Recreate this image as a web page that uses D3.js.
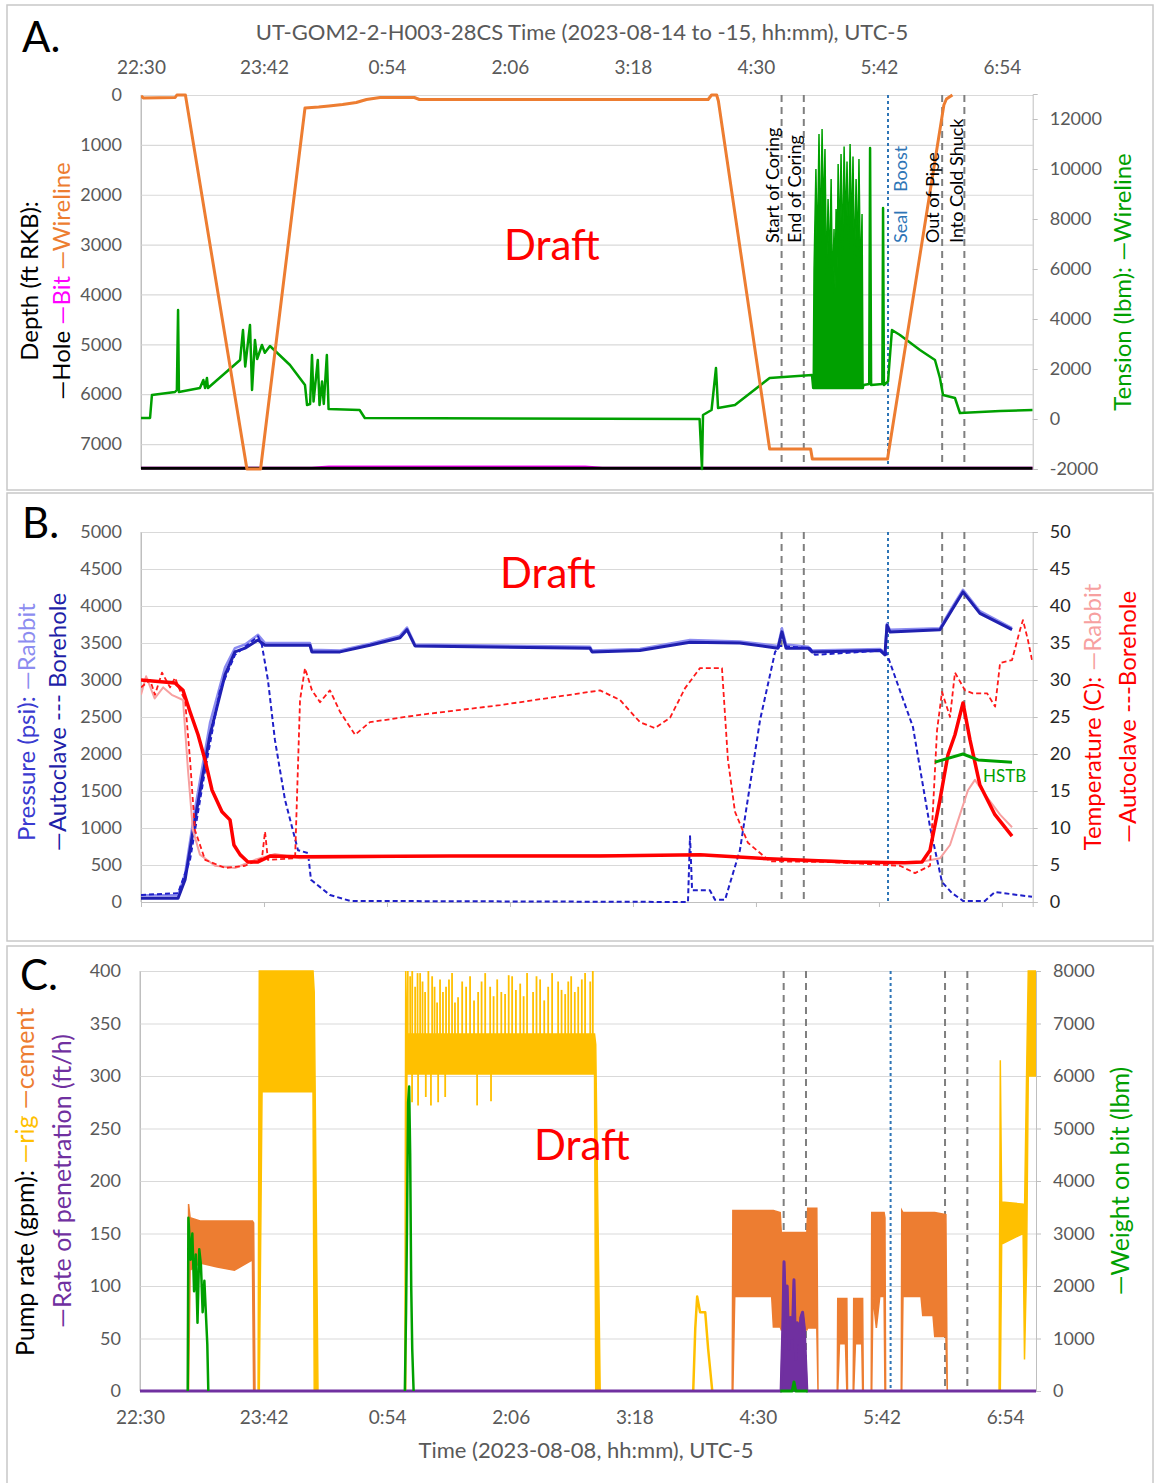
<!DOCTYPE html>
<html>
<head>
<meta charset="utf-8">
<script src="https://d3js.org/d3.v7.min.js"></script>
<style>
  body { margin: 0; background: #fff; }
  text { font-family: Lato, "Open Sans", sans-serif; white-space: pre; }
</style>
</head>
<body>
<svg id="chart" width="1154" height="1483"></svg>
<script>
// all times are minutes after 22:30
const timeTicks = ["22:30", "23:42", "0:54", "2:06", "3:18", "4:30", "5:42", "6:54"];
const eventTimes = [375, 388, 437.3, 469, 482];
const eventLabels = [["Start of Coring"], ["End of Coring"], ["Seal", "Boost"], ["Out of Pipe"], ["Into Cold Shuck"]];

// ---- panel A: depth (ft) and tension (lbm)
const depthTicks = [0, 1000, 2000, 3000, 4000, 5000, 6000, 7000];
const tensionTicks = [-2000, 0, 2000, 4000, 6000, 8000, 10000, 12000];
const wirelineDepth = [[0,20],[1.5,60],[20,50],[21,0],[26,0],[62,7500],[70,7500],[96,260],[104,240],[110,220],[118,190],[126,150],[132,90],[140,50],[160,50],[163,90],[332,90],[334,0],[337,0],[338,120],[368,7100],[392,7100],[393,7300],[437,7300],[470,200],[471.5,80],[475,0]];
const bitDepth = [[0,7480],[100,7480],[110,7455],[260,7455],[270,7480],[522,7480]];
const holeDepth = [[0,7485],[522,7485]];
const tension = [[0,40],[5.3,40],[6.4,960],[19.9,1080],[21,1160],[21.7,4360],[22.2,1080],[34.5,1240],[36.5,1560],[37.5,1240],[38.6,1640],[39.2,1240],[58,2360],[59.7,3560],[61,2100],[63.8,3760],[65,1160],[66.7,3160],[68,2400],[70.8,2960],[72.5,2650],[75.5,2920],[87.2,2160],[96,1360],[97.2,560],[99,600],[100.1,2560],[101,700],[103.5,2360],[104.5,560],[106,1500],[107,600],[108.8,2560],[109.8,400],[128,360],[131,40],[327,0],[328.4,-2000],[329,160],[334,360],[336.6,2040],[337.8,440],[347.7,560],[368,1640],[392.8,1760],[393.5,1240],[422.5,1240],[423,1360],[426.3,1400],[426.8,10840],[427.4,1360],[434,1400],[434.4,8440],[434.9,1360],[437.3,1500],[439.6,3560],[444.3,3360],[456,2760],[464.8,2360],[467.7,1640],[469.5,960],[476.5,840],[479.4,240],[502.9,320],[522,360]];
// [time, low, high] envelope of the dense tension spikes while coring
const tensionBurst = [[393.5,1240,1240],[394,1240,6000],[395.1,1240,10000],[395.9,1240,6500],[396.9,1240,11400],[397.8,1240,7000],[398.7,1240,11600],[399.5,1240,8000],[400.4,1240,10800],[401.3,1240,5500],[402.2,1240,8800],[403.1,1240,6000],[404,1240,9600],[404.8,1240,5000],[405.7,1240,7600],[406.3,1240,5200],[406.9,1240,8400],[407.5,1240,6000],[408.1,1240,10200],[409,1240,7000],[409.8,1240,10600],[410.7,1240,6500],[411.6,1240,10900],[412.5,1240,7500],[413.3,1240,10300],[414.2,1240,6800],[415.1,1240,11000],[416,1240,7200],[416.8,1240,10500],[417.7,1240,6000],[418.6,1240,9600],[419.5,1240,6500],[420.3,1240,10400],[421.2,1240,5500],[422.1,1240,8200],[422.7,1240,1300]];

// ---- panel B: pressure (psi) and temperature (C)
const pressureTicks = [0, 500, 1000, 1500, 2000, 2500, 3000, 3500, 4000, 4500, 5000];
const tempTicks = [0, 5, 10, 15, 20, 25, 30, 35, 40, 45, 50];
const autoclaveP = [[0,50],[21.7,50],[25.8,300],[31.6,1110],[40.4,2260],[49.2,3070],[55,3380],[60.9,3430],[68.5,3540],[72.6,3470],[98.9,3470],[100,3380],[116.5,3380],[134,3470],[151.6,3570],[155.7,3680],[160.4,3460],[262.8,3430],[264,3380],[292,3400],[321.4,3510],[350.6,3500],[372.9,3430],[375.2,3650],[377.6,3430],[390.5,3430],[392.8,3380],[432.6,3400],[435.5,3340],[436.7,3740],[438.4,3650],[467.7,3680],[474.8,3950],[481.2,4190],[491.1,3900],[509.9,3680]];
const rabbitP = [[0,90],[21.7,90],[25.8,380],[31.6,1250],[40.4,2420],[49.2,3170],[55,3430],[60.9,3480],[68.5,3610],[72.6,3500],[98.9,3500],[100,3410],[116.5,3400],[134,3490],[151.6,3600],[155.7,3710],[160.4,3480],[262.8,3450],[264,3400],[292,3420],[321.4,3540],[350.6,3520],[372.9,3460],[375.2,3700],[377.6,3480],[390.5,3450],[392.8,3400],[432.6,3420],[435.5,3360],[436.7,3760],[438.4,3680],[467.7,3700],[474.8,3980],[481.2,4220],[491.1,3930],[509.9,3700]];
const boreholeP = [[0,95],[21.7,120],[28.7,570],[37.5,1780],[46.2,2860],[55,3340],[68.5,3590],[70.8,3470],[74.3,3000],[78.4,2190],[84.3,1380],[91.9,700],[97.8,660],[99.5,300],[110.6,95],[122.3,15],[320.2,0],[321.4,890],[322.6,160],[333,160],[336,30],[341.9,30],[350.6,700],[362.4,2460],[371.2,3380],[374,3460],[391.6,3430],[394.6,3340],[435.5,3400],[437.3,3310],[451.9,2365],[461.9,1013],[468.9,270],[474.8,120],[481.2,15],[494,15],[499.9,135],[521.6,70]];
const autoclaveT = [[0,30],[19.9,29.6],[24.6,28.6],[28.7,25.7],[33.4,22.6],[37.5,19.2],[41.6,15.1],[47.4,12.2],[52.1,11.1],[54.4,7.7],[58,6.4],[62.6,5.4],[68.5,5.4],[75.5,6.2],[93.1,6.1],[180.9,6.2],[268.7,6.2],[327.2,6.4],[362.4,5.9],[415,5.4],[447.2,5.3],[457.2,5.4],[461.9,7],[467.7,13.8],[472.4,19.9],[476.5,22.6],[481.2,26.9],[485.3,21.9],[491.1,15.8],[499.9,11.8],[509.9,8.9]];
const rabbitT = [[0,28],[3,30.5],[8,27.5],[13,29],[18,28],[24.6,27.3],[27.5,17.8],[30.4,9.7],[34.5,6.4],[43.3,4.9],[55,4.6],[66.7,5.7],[78.4,6.5],[93.1,5.9],[200,6.3],[330,6.4],[370,5.8],[450,5.3],[456,5.4],[467.7,5.9],[473.6,7.7],[479.4,11.8],[484.1,15.1],[488.2,16.5],[494.1,14.5],[502.9,11.8],[509.9,10.1]];
const boreholeT = [[0,29],[5.3,30],[8.2,28],[12.3,31],[17,29],[19.9,30.3],[22.8,28.6],[25.8,27.3],[28.7,19.2],[31.6,9.7],[37.5,5.7],[49.2,4.6],[60.9,4.9],[70.8,5.9],[72.6,9.5],[74.3,5.7],[90.2,5.9],[93.1,27.3],[96,31.6],[100.1,28.6],[104.8,27],[110.6,28.6],[116.5,25.7],[125.3,22.6],[134,24.3],[163.3,25.3],[210.2,26.6],[268.7,28.6],[280.4,27.3],[292.1,24.3],[300.9,23.5],[309.7,24.9],[318.5,28.9],[327.2,31.6],[340.1,31.6],[343.6,19.2],[347.7,12.2],[355.3,8],[368.2,5.5],[403.3,5.4],[444.3,4.9],[453.1,3.9],[461.9,4.9],[466,23.2],[468.9,28.4],[473.6,25],[476.5,31],[482.4,28.6],[487,28.2],[495.3,28.2],[500,26.4],[502.9,32.3],[509.9,32.7],[514.6,36.8],[516.3,38.1],[519.2,35.4],[521.6,32.7]];
const hstbT = [[464.8,18.9],[481.2,20],[490,19.2],[509.9,18.9]];

// ---- panel C: pump rate (gpm), ROP (ft/h), weight on bit (lbm)
const pumpTicks = [0, 50, 100, 150, 200, 250, 300, 350, 400];
const wobTicks = [0, 1000, 2000, 3000, 4000, 5000, 6000, 7000, 8000];
// [time, low, high] envelopes of the rig pump rate
const rigBand1 = [[68.8,0,0],[69.5,0,400],[71.1,285,400],[100.8,285,400],[101.5,0,380],[103.7,0,0]];
const rigBand2 = [[154.3,0,0],[154.8,0,400],[155.5,302,340],[264.8,302,340],[265.5,0,330],[268.1,0,0]];
const rigBand3 = [[500.5,0,0],[501.2,0,315],[502,140,180],[514.5,150,178],[515.3,30,170],[516.5,120,300],[517.5,300,400],[521.8,300,400]];
const rigSmall = [[322.3,0],[323.5,60],[324.6,90],[326.3,75],[329.3,75],[331,40],[333.4,0]];
const rigSpikesUp = [[156,400],[157.4,395],[158.6,400],[160.3,385],[161.7,398],[163.2,398],[164.6,390],[166.1,380],[168,400],[170.2,395],[171.6,385],[173.1,370],[174.8,392],[176.5,380],[178.3,385],[180,392],[181.8,398],[183.5,370],[185.3,375],[187.7,390],[190,385],[192.3,395],[194.6,372],[197,380],[199,390],[201.1,398],[204,385],[206,376],[208.1,392],[210.5,380],[212.7,378],[214.8,396],[216.8,395],[219,382],[221.5,388],[223.5,376],[225.5,398],[229,380],[231,395],[233.1,392],[235.5,372],[237.8,385],[240.1,398],[243.6,390],[245.6,382],[247.7,378],[249.5,390],[251.2,395],[253.3,380],[255.3,385],[257.4,392],[259.3,398],[262.3,390],[263.8,400]];
const rigSpikesDown = [[158.5,275],[162,272],[166.5,280],[169.5,272],[173.7,275],[177.8,280],[196.4,272],[204.5,276]];
const cementBands = [
  [[27.9,0,0],[28.3,0,178],[29.2,115,165],[35,122,162],[45,118,162],[55,115,162],[65.5,125,162],[66.2,0,160],[67,0,0]],
  [[345,0,0],[345.4,0,172],[346.5,90,172],[368,90,172],[369,61,172],[373,61,170],[373.6,58,151],[388.5,58,151],[389,60,174],[394.3,60,174],[395,0,0]],
  [[406.2,0,0],[406.5,0,88],[407.5,45,88],[411,45,88],[411.8,0,88],[412.2,0,0]],
  [[415.5,0,0],[415.8,0,88],[416.8,45,88],[420.5,45,88],[421,0,88],[421.4,0,0]],
  [[426,0,0],[426.3,0,170],[427,90,170],[429,60,170],[431,90,170],[433.5,90,170],[434,0,165],[434.4,0,0]],
  [[443.5,0,0],[443.8,0,172],[444.5,90,170],[455,90,170],[456,72,170],[462,72,170],[463,52,170],[469.5,52,168],[470.3,0,0]]
];
const rop = [[0,0],[373.5,0],[374.5,60],[375.2,123],[376,80],[377,100],[378,40],[379,70],[380,50],[381,106],[382,30],[383,65],[384,45],[385,70],[386,75],[387,60],[388,20],[388.5,0],[522,0]];
const wob1 = [[27.8,0],[28.2,3300],[29.5,2500],[30.5,3000],[31.5,1900],[32.5,2600],[33.5,1300],[34.5,2700],[35.5,2400],[36.5,1500],[37.5,2100],[39.2,900],[39.8,0]];
const wob2 = [[154.3,0],[155,1500],[155.5,3000],[156.2,5500],[156.8,5800],[157.4,4500],[158,2000],[158.6,800],[159.4,0]];
const wob3 = [[373,0],[380,0],[381,170],[382,0],[389,0]];

function hm(s) {
  const p = s.split(":").map(Number);
  let v = p[0] * 60 + p[1] - (22 * 60 + 30);
  if (v < 0) v += 1440;
  return v;
}
const tickMin = timeTicks.map(hm);

const svg = d3.select("#chart");
const grid = "#d9d9d9", tickCol = "#595959";

// panel frames
[[7, 5, 1146, 485], [7, 493, 1146, 448], [7, 946, 1146, 540]].forEach(r => {
  svg.append("rect").attr("x", r[0]).attr("y", r[1]).attr("width", r[2]).attr("height", r[3])
    .attr("fill", "none").attr("stroke", "#c8c8c8").attr("stroke-width", 1.5);
});

function styleAxis(g, col, size) {
  g.selectAll("text").attr("fill", col).style("font-size", size + "px").style("font-family", "Lato");
  g.select(".domain").attr("stroke", "#bfbfbf");
}

function leftGrid(y, ticks, left, right) {
  const g = svg.append("g").attr("transform", "translate(" + left + ",0)")
    .call(d3.axisLeft(y).tickValues(ticks).tickSize(-(right - left)).tickPadding(19).tickFormat(d => String(d)));
  g.selectAll(".tick line").attr("stroke", grid).attr("stroke-width", 1.2);
  styleAxis(g, tickCol, 18);
  return g;
}
function rightAxis(y, ticks, right, col) {
  const g = svg.append("g").attr("transform", "translate(" + right + ",0)")
    .call(d3.axisRight(y).tickValues(ticks).tickSize(5).tickPadding(12).tickFormat(d => String(d)));
  g.selectAll(".tick line").attr("stroke", "#bfbfbf");
  styleAxis(g, col, 18);
  return g;
}

function clipFor(id, x0, y0, x1, y1) {
  svg.append("clipPath").attr("id", id).append("rect")
    .attr("x", x0).attr("y", y0 - 2).attr("width", x1 - x0).attr("height", y1 - y0 + 4);
  return svg.append("g").attr("clip-path", "url(#" + id + ")");
}

function addLine(g, x, y, data, color, width, dash) {
  g.append("path").datum(data)
    .attr("fill", "none").attr("stroke", color).attr("stroke-width", width)
    .attr("stroke-dasharray", dash || null).attr("stroke-linejoin", "round")
    .attr("d", d3.line().x(d => x(d[0])).y(d => y(d[1])));
}
function addBand(g, x, y, data, color) {
  g.append("path").datum(data)
    .attr("fill", color).attr("stroke", color).attr("stroke-width", 1.5)
    .attr("d", d3.area().x(d => x(d[0])).y0(d => y(d[1])).y1(d => y(d[2])));
}
function addSpikes(g, x, y, data, base, color) {
  g.selectAll(null).data(data).enter().append("line")
    .attr("x1", d => x(d[0])).attr("x2", d => x(d[0]))
    .attr("y1", y(base)).attr("y2", d => y(d[1]))
    .attr("stroke", color).attr("stroke-width", 1.8);
}
function eventLines(g, x, y0, y1) {
  eventTimes.forEach((t, i) => {
    g.append("line").attr("x1", x(t)).attr("x2", x(t)).attr("y1", y0).attr("y2", y1)
      .attr("stroke", i === 2 ? "#2e75b6" : "#7f7f7f")
      .attr("stroke-width", 2)
      .attr("stroke-dasharray", i === 2 ? "3,3" : "7,5");
  });
}
function vlabel(x, y, parts, size) {
  const t = svg.append("text").attr("transform", "translate(" + x + "," + y + ") rotate(-90)")
    .attr("text-anchor", "middle").attr("dy", "0.35em").style("font-size", size + "px");
  parts.forEach(p => t.append("tspan").attr("fill", p[1]).text(p[0]));
}
function draft(x, y) {
  svg.append("text").attr("x", x).attr("y", y).attr("text-anchor", "middle")
    .attr("fill", "#ff0000").style("font-size", "42px").text("Draft");
}
function letter(x, y, s) {
  svg.append("text").attr("x", x).attr("y", y).attr("fill", "#000").style("font-size", "42px").text(s);
}

// ================= Panel A
const xA = d3.scaleLinear().domain([0, 522]).range([141, 1032.7]);
const yA = d3.scaleLinear().domain([0, 7500]).range([95, 469]);
const yA2 = d3.scaleLinear().domain([-2000, 13000]).range([469, 94]);

leftGrid(yA, depthTicks, 141, 1032.7);
svg.append("line").attr("x1", 141).attr("x2", 141).attr("y1", 95).attr("y2", 469).attr("stroke", "#bfbfbf");
rightAxis(yA2, tensionTicks, 1032.7, tickCol);
const topAx = svg.append("g").attr("transform", "translate(0,95)")
  .call(d3.axisTop(xA).tickValues(tickMin).tickSize(0).tickPadding(21).tickFormat((d, i) => timeTicks[i]));
topAx.select(".domain").remove();
styleAxis(topAx, tickCol, 19);

const gA = clipFor("clipA", 141, 95, 1032.7, 469);
eventLines(gA, xA, 95, 469);
addLine(gA, xA, yA, bitDepth, "#ff00ff", 2.5);
addLine(gA, xA, yA, holeDepth, "#000", 3);
addBand(gA, xA, yA2, tensionBurst, "#00a000");
addLine(gA, xA, yA2, tension, "#00a000", 2.5);
addLine(gA, xA, yA, wirelineDepth, "#ed7d31", 3);

eventLabels.forEach((labs, i) => {
  const off = [-9, -9, 13, -9, -8][i];
  labs.forEach((s, j) => {
    svg.append("text")
      .attr("transform", "translate(" + (xA(eventTimes[i]) + off) + "," + (j === 0 ? 243 : 192) + ") rotate(-90)")
      .attr("dy", "0.35em").attr("fill", i === 2 ? "#2e75b6" : "#000")
      .style("font-size", "18px").text(s);
  });
});

svg.append("text").attr("x", 582).attr("y", 40).attr("text-anchor", "middle").attr("fill", tickCol)
  .style("font-size", "22px").text("UT-GOM2-2-H003-28CS Time (2023-08-14 to -15, hh:mm), UTC-5");
letter(22, 52, "A.");
vlabel(30, 281, [["Depth (ft RKB):", "#000"]], 24);
vlabel(62, 281, [["\u2014Hole ", "#000"], ["\u2014Bit ", "#ff00ff"], ["\u2014Wireline", "#ed7d31"]], 24);
vlabel(1123, 282, [["Tension (lbm): \u2014Wireline", "#00a000"]], 24);
draft(552, 260);

// ================= Panel B
const xB = d3.scaleLinear().domain([0, 522]).range([141, 1032.7]);
const yB = d3.scaleLinear().domain([0, 5000]).range([902, 532]);
const yB2 = d3.scaleLinear().domain([0, 50]).range([902, 532]);

leftGrid(yB, pressureTicks, 141, 1032.7);
rightAxis(yB2, tempTicks, 1032.7, "#262626");
const botB = svg.append("g").attr("transform", "translate(0,902)")
  .call(d3.axisBottom(xB).tickValues(tickMin).tickSize(5).tickFormat(""));
botB.selectAll(".tick line").attr("stroke", "#bfbfbf");
botB.select(".domain").attr("stroke", "#bfbfbf");
svg.append("line").attr("x1", 141).attr("x2", 141).attr("y1", 532).attr("y2", 902).attr("stroke", "#bfbfbf");

const gB = clipFor("clipB", 141, 532, 1032.7, 902);
eventLines(gB, xB, 532, 902);
addLine(gB, xB, yB, rabbitP, "#8c8cf0", 2.5);
addLine(gB, xB, yB, autoclaveP, "#2020b0", 3);
addLine(gB, xB, yB, boreholeP, "#1f1fc8", 2, "5,3");
addLine(gB, xB, yB2, rabbitT, "#f7a0a0", 2);
addLine(gB, xB, yB2, boreholeT, "#ff1a1a", 1.8, "5,3");
addLine(gB, xB, yB2, autoclaveT, "#ff0000", 3.5);
addLine(gB, xB, yB2, hstbT, "#00a000", 3);
svg.append("text").attr("x", 983).attr("y", 782).attr("fill", "#00a000").style("font-size", "17px").text("HSTB");

letter(22, 538, "B.");
vlabel(27, 722, [["Pressure (psi): ", "#3a3ad0"], ["\u2014Rabbit", "#8c8cf0"]], 24);
vlabel(58, 722, [["\u2014Autoclave --- Borehole", "#1f1fa8"]], 24);
vlabel(1093, 717, [["Temperature (C): ", "#ff0000"], ["\u2014Rabbit", "#f7a0a0"]], 24);
vlabel(1128, 717, [["\u2014Autoclave ---Borehole", "#ff0000"]], 24);
draft(548, 588);

// ================= Panel C
const xC = d3.scaleLinear().domain([0, 522]).range([140, 1036]);
const yC = d3.scaleLinear().domain([0, 400]).range([1391, 971]);
const yC2 = d3.scaleLinear().domain([0, 8000]).range([1391, 971]);

leftGrid(yC, pumpTicks, 140, 1036);
svg.append("line").attr("x1", 140).attr("x2", 140).attr("y1", 971).attr("y2", 1391).attr("stroke", "#bfbfbf");
rightAxis(yC2, wobTicks, 1036, tickCol);
const botC = svg.append("g").attr("transform", "translate(0,1391)")
  .call(d3.axisBottom(xC).tickValues(tickMin).tickSize(0).tickPadding(20).tickFormat((d, i) => timeTicks[i]));
styleAxis(botC, tickCol, 19);

const gC = clipFor("clipC", 140, 971, 1036, 1391);
eventLines(gC, xC, 971, 1391);
addBand(gC, xC, yC, rigBand1, "#ffc000");
addBand(gC, xC, yC, rigBand2, "#ffc000");
addBand(gC, xC, yC, rigBand3, "#ffc000");
addSpikes(gC, xC, yC, rigSpikesUp, 330, "#ffc000");
addSpikes(gC, xC, yC, rigSpikesDown, 310, "#ffc000");
addLine(gC, xC, yC, rigSmall, "#ffc000", 2.5);
cementBands.forEach(b => addBand(gC, xC, yC, b, "#ed7d31"));
gC.append("path").datum(rop).attr("fill", "#7030a0").attr("stroke", "#7030a0").attr("stroke-width", 2)
  .attr("d", d3.area().x(d => xC(d[0])).y0(yC(0)).y1(d => yC(d[1])));
addLine(gC, xC, yC, rop, "#7030a0", 3);
addLine(gC, xC, yC2, wob1, "#00a000", 2.5);
addLine(gC, xC, yC2, wob2, "#00a000", 2.5);
addLine(gC, xC, yC2, wob3, "#00a000", 3);

letter(20, 990, "C.");
vlabel(25, 1182, [["Pump rate (gpm): ", "#000"], ["\u2014rig ", "#ffc000"], ["\u2014cement", "#ed7d31"]], 25);
vlabel(62, 1181, [["\u2014Rate of penetration (ft/h)", "#7030a0"]], 25);
vlabel(1120, 1181, [["\u2014Weight on bit (lbm)", "#00a000"]], 25);
draft(582, 1160);
svg.append("text").attr("x", 586).attr("y", 1458).attr("text-anchor", "middle").attr("fill", tickCol)
  .style("font-size", "22px").text("Time (2023-08-08, hh:mm), UTC-5");
</script>
</body>
</html>
